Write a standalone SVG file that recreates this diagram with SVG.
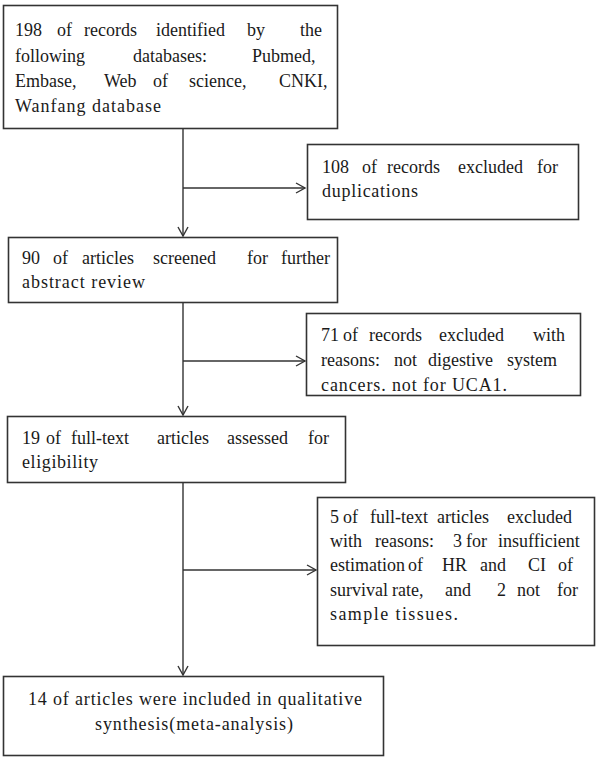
<svg xmlns="http://www.w3.org/2000/svg" width="600" height="763" viewBox="0 0 600 763">
<style>
.box{fill:#fff;stroke:#333;stroke-width:1.6}
.t{font-family:'Liberation Serif',serif;font-size:18px;fill:#1a1a1a}
.c{text-anchor:middle}
.ln{fill:none;stroke:#333;stroke-width:1.4}
</style>
<defs>
<marker id="ah" markerWidth="12" markerHeight="12" refX="10" refY="6" orient="auto" markerUnits="userSpaceOnUse">
<path d="M1,1 L10,6 L1,11" fill="none" stroke="#333" stroke-width="1.4"/>
</marker>
</defs>
<rect width="600" height="763" fill="#fff"/>
<g id="connectors">
<line class="ln" x1="183" y1="129" x2="183" y2="236" marker-end="url(#ah)"/>
<line class="ln" x1="183" y1="188" x2="305" y2="188" marker-end="url(#ah)"/>
<line class="ln" x1="183" y1="303" x2="183" y2="415" marker-end="url(#ah)"/>
<line class="ln" x1="183" y1="361" x2="305" y2="361" marker-end="url(#ah)"/>
<line class="ln" x1="183" y1="483" x2="183" y2="675" marker-end="url(#ah)"/>
<line class="ln" x1="183" y1="570" x2="316" y2="570" marker-end="url(#ah)"/>
</g>
<g font-family="Liberation Serif, serif">
<g id="n1">
<rect class="box" x="3.5" y="5.5" width="334" height="123"/>
<text class="t" y="36"><tspan x="15">198</tspan><tspan x="57">of</tspan><tspan x="84">records</tspan><tspan x="156">identified</tspan><tspan x="247">by</tspan><tspan x="300">the</tspan></text>
<text class="t" y="62"><tspan x="15">following</tspan><tspan x="133">databases:</tspan><tspan x="252">Pubmed,</tspan></text>
<text class="t" y="87"><tspan x="15">Embase,</tspan><tspan x="104">Web</tspan><tspan x="153">of</tspan><tspan x="189">science,</tspan><tspan x="279">CNKI,</tspan></text>
<text class="t" x="15" y="112" textLength="146" lengthAdjust="spacing">Wanfang database</text>
</g>
<g id="n2">
<rect class="box" x="307.5" y="144.5" width="271" height="75"/>
<text class="t" y="173"><tspan x="322">108</tspan><tspan x="362">of</tspan><tspan x="387">records</tspan><tspan x="458">excluded</tspan><tspan x="537">for</tspan></text>
<text class="t" x="322" y="197" textLength="96" lengthAdjust="spacing">duplications</text>
</g>
<g id="n3">
<rect class="box" x="8.5" y="237.5" width="329" height="65"/>
<text class="t" y="264"><tspan x="22">90</tspan><tspan x="53">of</tspan><tspan x="82">articles</tspan><tspan x="153">screened</tspan><tspan x="247">for</tspan><tspan x="281">further</tspan></text>
<text class="t" x="22" y="288" textLength="123" lengthAdjust="spacing">abstract review</text>
</g>
<g id="n4">
<rect class="box" x="306.5" y="313.5" width="274" height="82"/>
<text class="t" y="341"><tspan x="321">71</tspan><tspan x="343">of</tspan><tspan x="369">records</tspan><tspan x="439">excluded</tspan><tspan x="533">with</tspan></text>
<text class="t" y="366"><tspan x="321">reasons:</tspan><tspan x="394">not</tspan><tspan x="428">digestive</tspan><tspan x="507">system</tspan></text>
<text class="t" x="321" y="391" textLength="186" lengthAdjust="spacing">cancers. not for UCA1.</text>
</g>
<g id="n5">
<rect class="box" x="7.5" y="416.5" width="338" height="66"/>
<text class="t" y="444"><tspan x="22">19</tspan><tspan x="46">of</tspan><tspan x="71">full-text</tspan><tspan x="157">articles</tspan><tspan x="227">assessed</tspan><tspan x="308">for</tspan></text>
<text class="t" x="22" y="468" textLength="76" lengthAdjust="spacing">eligibility</text>
</g>
<g id="n6">
<rect class="box" x="317.5" y="497.5" width="277" height="148"/>
<text class="t" y="523"><tspan x="330">5</tspan><tspan x="343">of</tspan><tspan x="370">full-text</tspan><tspan x="437">articles</tspan><tspan x="507">excluded</tspan></text>
<text class="t" y="547"><tspan x="330">with</tspan><tspan x="375">reasons:</tspan><tspan x="453">3</tspan><tspan x="466">for</tspan><tspan x="498">insufficient</tspan></text>
<text class="t" y="571"><tspan x="330">estimation</tspan><tspan x="408">of</tspan><tspan x="442">HR</tspan><tspan x="480">and</tspan><tspan x="528">CI</tspan><tspan x="558">of</tspan></text>
<text class="t" y="596"><tspan x="330">survival</tspan><tspan x="392">rate,</tspan><tspan x="445">and</tspan><tspan x="497">2</tspan><tspan x="517">not</tspan><tspan x="557">for</tspan></text>
<text class="t" x="330" y="620" textLength="128" lengthAdjust="spacing">sample tissues.</text>
</g>
<g id="n7">
<rect class="box" x="3.5" y="676.5" width="380" height="79"/>
<text class="t c" x="195" y="705" textLength="334" lengthAdjust="spacing">14 of articles were included in qualitative</text>
<text class="t c" x="194" y="730" textLength="198" lengthAdjust="spacing">synthesis(meta-analysis)</text>
</g>
</g>
</svg>
